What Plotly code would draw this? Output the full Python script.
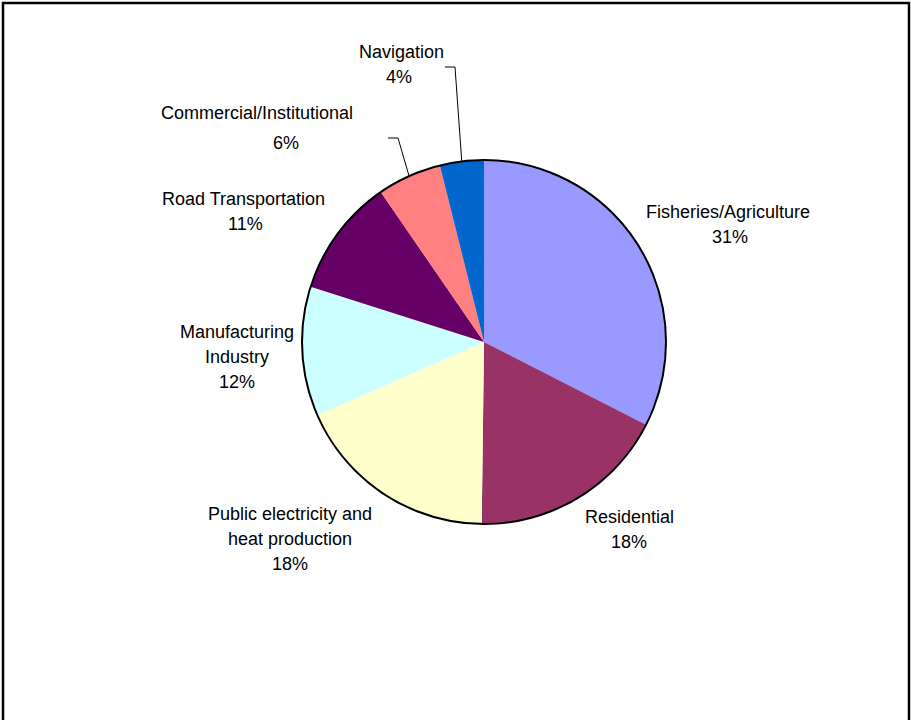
import math
import plotly.graph_objects as go

# ---- data ----
categories = ["Fisheries/Agriculture", "Residential", "Public electricity and heat production",
              "Manufacturing Industry", "Road Transportation", "Commercial/Institutional", "Navigation"]
shares = [32.5, 17.7, 18.2, 11.5, 10.5, 5.7, 3.9]          # slice sizes as drawn
pct_labels = ["31%", "18%", "18%", "12%", "11%", "6%", "4%"]  # printed percentages
colors = ["#9999FF", "#993366", "#FFFFCC", "#CCFFFF", "#660066", "#FF8080", "#0066CC"]

# label text lines (name lines then percent)
label_lines = [
    ["Fisheries/Agriculture"],
    ["Residential"],
    ["Public electricity and", "heat production"],
    ["Manufacturing", "Industry"],
    ["Road Transportation"],
    ["Commercial/Institutional"],
    ["Navigation"],
]

# ---- layout (pixels) ----
W, H = 911, 720
CX, CY, R = 484, 342, 182
FONT = "Liberation Sans, Arial, Helvetica, sans-serif"
FS = 18
LINE = 25
# (center x of name lines, y of first line, center x of pct, y of pct)
label_pos = [
    (728, 212, 730, 237),
    (629, 517, 629, 542),
    (290, 514, 290, 564),
    (237, 332, 237, 382),
    (244, 199, 246, 224),
    (257, 113, 286, 143),
    (401, 52, 399, 77),
]
leaders = {5: [(388, 138), (398, 138)], 6: [(445, 67), (455, 67)]}

px = lambda x: x / W
py = lambda y: 1 - y / H

fig = go.Figure()
dom = dict(x=[px(CX - R), px(CX + R)], y=[py(CY + R), py(CY - R)])
fig.add_trace(go.Pie(labels=categories, values=shares, sort=False, direction="clockwise",
                     rotation=0, marker=dict(colors=colors, line=dict(width=0)),
                     textinfo="none", hoverinfo="label+percent", domain=dom, showlegend=False))
fig.add_trace(go.Pie(values=[1], labels=["outline"], sort=False,
                     marker=dict(colors=["rgba(0,0,0,0)"], line=dict(color="black", width=2)),
                     textinfo="none", hoverinfo="skip", domain=dom, showlegend=False))

annotations = []
for i, lines in enumerate(label_lines):
    nx, ny, qx, qy = label_pos[i]
    for k, t in enumerate(lines):
        annotations.append(dict(x=px(nx), y=py(ny + k * LINE), xref="paper", yref="paper",
                                text=t, showarrow=False, xanchor="center", yanchor="middle",
                                font=dict(family=FONT, size=FS, color="black")))
    annotations.append(dict(x=px(qx), y=py(qy), xref="paper", yref="paper",
                            text=pct_labels[i], showarrow=False, xanchor="center", yanchor="middle",
                            font=dict(family=FONT, size=FS, color="black")))

shapes = [dict(type="rect", xref="paper", yref="paper", x0=px(3), x1=px(909), y0=py(740), y1=py(3),
               line=dict(color="black", width=2.5), fillcolor="rgba(0,0,0,0)")]
total = sum(shares)
cum = 0
for i, v in enumerate(shares):
    mid = (cum + v / 2) / total * 2 * math.pi
    cum += v
    if i in leaders:
        ex, ey = CX + R * math.sin(mid), CY - R * math.cos(mid)
        pts = leaders[i] + [(ex, ey)]
        path = "M " + " L ".join(f"{px(x)},{py(y)}" for x, y in pts)
        shapes.append(dict(type="path", xref="paper", yref="paper", path=path,
                           line=dict(color="black", width=1)))

fig.update_layout(width=W, height=H, margin=dict(l=0, r=0, t=0, b=0),
                  paper_bgcolor="white", plot_bgcolor="white",
                  annotations=annotations, shapes=shapes)
fig.write_html("out.html", config={"displayModeBar": False},
               post_script="document.body.style.margin='0';document.body.style.overflow='hidden';")
